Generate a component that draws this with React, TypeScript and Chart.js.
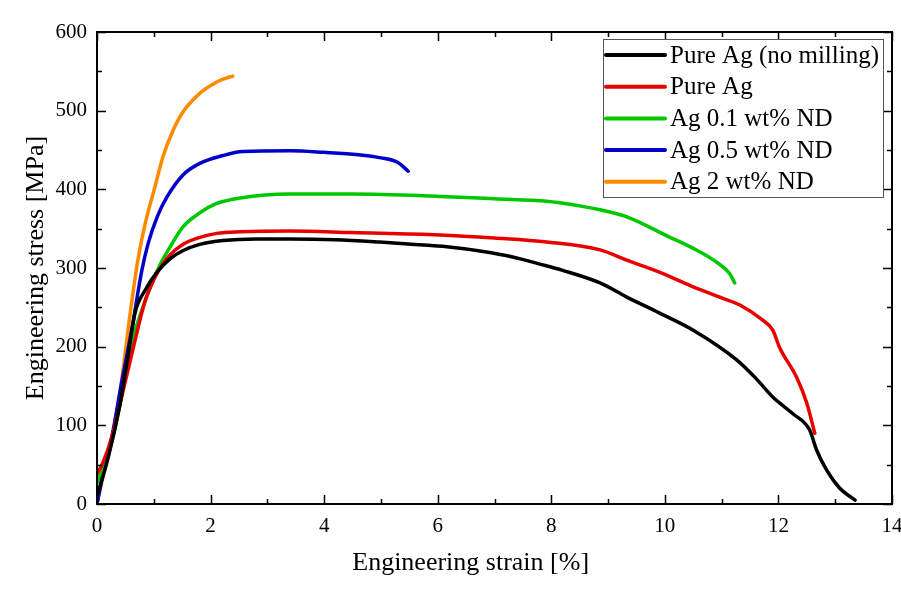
import React, { useEffect, useRef } from "react";
import { Chart, registerables } from "chart.js";

Chart.register(...registerables);

const seriesLabels = [
  "Pure Ag (no milling)",
  "Pure Ag",
  "Ag 0.1 wt% ND",
  "Ag 0.5 wt% ND",
  "Ag 2 wt% ND",
];
const seriesColors = ["#000000", "#e80000", "#00c800", "#0000c8", "#ff8a00"];

const blackStrain = [0, 0.2, 0.4, 0.55, 0.67, 0.85, 1.06, 1.29, 1.51, 1.81, 2.22, 2.8, 3.4, 4.2, 4.98, 5.6, 6.16, 6.8, 7.32, 7.8, 8.2, 8.86, 9.33, 9.9, 10.5, 11.27, 11.6, 11.9, 12.25, 12.55, 12.67, 12.85, 13.08, 13.29, 13.35];
const blackStress = [10, 60, 125, 190, 243, 272, 295, 312, 322, 330, 335, 337, 337, 336, 333, 330, 327, 321, 314, 305, 297, 281, 263, 243, 221, 183, 160, 136, 115, 94, 69, 43, 20, 8, 5];

const redStrain = [0, 0.1, 0.26, 0.49, 0.67, 0.85, 1.0, 1.14, 1.29, 1.51, 1.81, 2.11, 2.52, 3.4, 4.5, 6.04, 7.0, 7.92, 8.86, 9.33, 10.0, 10.5, 11.0, 11.32, 11.7, 11.9, 12.02, 12.32, 12.5, 12.64];
const redStress = [38, 52, 85, 153, 208, 259, 285, 303, 317, 330, 339, 344, 346, 347, 345, 342, 338, 333, 323, 310, 292, 276, 262, 253, 235, 221, 199, 161, 128, 90];

const greenStrain = [0, 0.17, 0.35, 0.61, 0.9, 1.11, 1.29, 1.51, 1.81, 2.11, 2.52, 3.4, 4.5, 6.04, 7.0, 7.92, 8.15, 8.86, 9.33, 10.09, 10.5, 10.92, 11.14, 11.23];
const greenStress = [27, 56, 107, 204, 268, 304, 327, 352, 370, 382, 389, 394, 394, 391, 388, 385, 383, 374, 365, 339, 325, 307, 293, 281];

const blueStrain = [0, 0.17, 0.26, 0.43, 0.61, 0.79, 0.9, 1.06, 1.23, 1.51, 1.81, 2.22, 2.57, 3.4, 4.0, 4.6, 5.0, 5.3, 5.48];
const blueStress = [0, 60, 85, 153, 221, 297, 331, 365, 390, 418, 433, 443, 448, 449, 447, 444, 440, 434, 423];

const orangeStrain = [0, 0.08, 0.26, 0.42, 0.58, 0.72, 0.86, 1.02, 1.16, 1.34, 1.51, 1.81, 2.05, 2.22, 2.39];
const orangeStress = [0, 27, 81, 150, 240, 310, 360, 403, 441, 475, 498, 522, 534, 540, 544];

const xTickLabels = ["0", "2", "4", "6", "8", "10", "12", "14"];
const yTickLabels = ["0", "100", "200", "300", "400", "500", "600"];

const xTitle = "Engineering strain [%]";
const yTitle = "Engineering stress [MPa]";

const FONT = "'Liberation Serif', 'Times New Roman', serif";

function pairs(xs: number[], ys: number[]) {
  return xs.map((x, i) => ({ x, y: ys[i] }));
}

const allStrain = [blackStrain, redStrain, greenStrain, blueStrain, orangeStrain];
const allStress = [blackStress, redStress, greenStress, blueStress, orangeStress];

const framePlugin = {
  id: "framePlugin",
  beforeDraw(chart: any) {
    const ctx = chart.ctx;
    ctx.save();
    ctx.fillStyle = "#ffffff";
    ctx.fillRect(0, 0, chart.width, chart.height);
    ctx.restore();
  },
  afterDatasetsDraw(chart: any) {
    const { ctx, chartArea } = chart;
    const { left, right, top, bottom } = chartArea;
    const xs = chart.scales.x;
    const ys = chart.scales.y;
    ctx.save();
    ctx.strokeStyle = "#000";
    ctx.lineWidth = 2;
    ctx.strokeRect(left, top, right - left, bottom - top);
    ctx.lineWidth = 1.5;
    for (let v = 0; v <= 14; v += 1) {
      const px = Math.round(xs.getPixelForValue(v)) + 0.5;
      const len = v % 2 === 0 ? 9 : 5;
      ctx.beginPath();
      ctx.moveTo(px, bottom);
      ctx.lineTo(px, bottom - len);
      ctx.moveTo(px, top);
      ctx.lineTo(px, top + len);
      ctx.stroke();
    }
    for (let v = 0; v <= 600; v += 50) {
      const py = Math.round(ys.getPixelForValue(v)) + 0.5;
      const len = v % 100 === 0 ? 9 : 5;
      ctx.beginPath();
      ctx.moveTo(left, py);
      ctx.lineTo(left + len, py);
      ctx.moveTo(right, py);
      ctx.lineTo(right - len, py);
      ctx.stroke();
    }
    ctx.fillStyle = "#000";
    ctx.font = `26px ${FONT}`;
    ctx.textAlign = "center";
    ctx.textBaseline = "middle";
    ctx.fillText(xTitle, left + (right - left) * 0.47, bottom + 59);
    ctx.save();
    ctx.translate(left - 61, (top + bottom) / 2);
    ctx.rotate(-Math.PI / 2);
    ctx.fillText(yTitle, 0, 0);
    ctx.restore();

    const bw = 280;
    const bh = 158;
    const bx = right - 289;
    const by = top + 7;
    ctx.fillStyle = "#ffffff";
    ctx.fillRect(bx, by, bw, bh);
    ctx.strokeStyle = "#555";
    ctx.lineWidth = 1;
    ctx.strokeRect(bx + 0.5, by + 0.5, bw, bh);
    ctx.font = `25px ${FONT}`;
    ctx.textAlign = "left";
    ctx.textBaseline = "middle";
    chart.data.datasets.forEach((ds: any, i: number) => {
      const cy = by + 16 + i * 31.7;
      ctx.strokeStyle = ds.borderColor;
      ctx.lineWidth = 4;
      ctx.lineCap = "round";
      ctx.beginPath();
      ctx.moveTo(bx + 3, cy);
      ctx.lineTo(bx + 62, cy);
      ctx.stroke();
      ctx.fillStyle = "#000";
      ctx.fillText(ds.label, bx + 67, cy + 1);
    });
    ctx.restore();
  },
};

export default function App() {
  const ref = useRef<HTMLCanvasElement | null>(null);
  useEffect(() => {
    document.body.style.margin = "0";
    const canvas = ref.current;
    if (!canvas) return;
    const chart = new Chart(canvas, {
      type: "scatter",
      data: {
        datasets: seriesLabels.map((label, i) => ({
          label,
          data: pairs(allStrain[i], allStress[i]),
          borderColor: seriesColors[i],
          backgroundColor: seriesColors[i],
          borderWidth: 3.5,
          showLine: true,
          pointRadius: 0,
          cubicInterpolationMode: "monotone" as const,
          borderCapStyle: "round" as const,
          borderJoinStyle: "round" as const,
        })),
      },
      options: {
        responsive: false,
        animation: false,
        layout: { padding: { top: 32, right: 9, left: 0, bottom: 0 } },
        plugins: {
          legend: { display: false },
          tooltip: { enabled: false },
        },
        scales: {
          x: {
            type: "linear",
            min: 0,
            max: 14,
            grid: { display: false, drawTicks: false },
            border: { display: false },
            ticks: {
              stepSize: 2,
              padding: 10,
              color: "#000",
              font: { family: FONT, size: 21 },
              callback: (v: any) => {
                const idx = Math.round(Number(v) / 2);
                return xTickLabels[idx] ?? "";
              },
            },
            afterFit: (s: any) => {
              s.height = 86;
              s.paddingLeft = 0;
              s.paddingRight = 0;
            },
          },
          y: {
            type: "linear",
            min: 0,
            max: 600,
            grid: { display: false, drawTicks: false },
            border: { display: false },
            ticks: {
              stepSize: 100,
              padding: 10,
              color: "#000",
              font: { family: FONT, size: 21 },
              callback: (v: any) => {
                const idx = Math.round(Number(v) / 100);
                return yTickLabels[idx] ?? "";
              },
            },
            afterFit: (s: any) => {
              s.width = 97;
              s.paddingTop = 0;
              s.paddingBottom = 0;
            },
          },
        },
      },
      plugins: [framePlugin],
    });
    return () => chart.destroy();
  }, []);
  return (
    <div style={{ width: 901, height: 590 }}>
      <canvas ref={ref} width={901} height={590} style={{ display: "block" }} />
    </div>
  );
}
